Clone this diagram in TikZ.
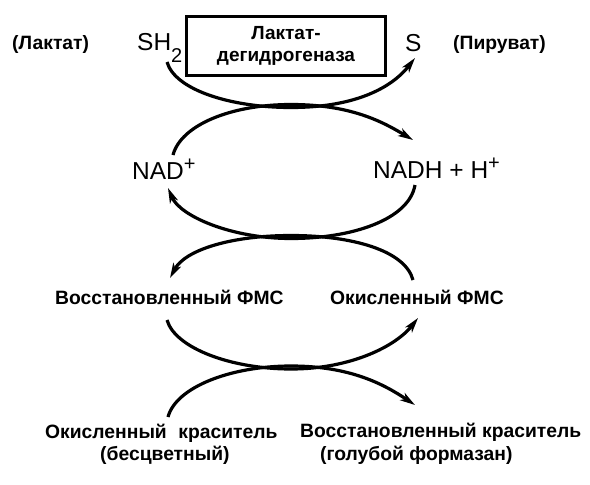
\documentclass[tikz,border=0pt]{standalone}
\usepackage{fontspec}
\setmainfont{Liberation Sans}
\usetikzlibrary{arrows.meta,positioning,calc}

\newcommand{\chsup}[1]{\raisebox{8.5pt}{\fontsize{20}{20}\selectfont #1}}
\newcommand{\chsub}[1]{\raisebox{-12pt}{\fontsize{20}{20}\selectfont #1}}

\begin{document}
\begin{tikzpicture}[
  x=1pt, y=-1pt,
  enzbox/.style={draw, line width=2.8pt, minimum width=199pt, minimum height=59pt, align=center, inner sep=0pt, font=\fontsize{19}{22}\selectfont\bfseries},
  lbl/.style={inner sep=0pt, anchor=base west, font=\fontsize{19.3}{22}\selectfont\bfseries},
  chem/.style={inner sep=0pt, anchor=base west, font=\fontsize{24.5}{28}\selectfont},
  flow/.style={line width=3.2pt, -{Stealth[length=15pt,width=8.5pt,inset=4pt]}}
]
\useasboundingbox (0,0) rectangle (590,485);

% top row: lactate -> pyruvate
\node[lbl] (lac) at (12,49) {(Лактат)};
\node[chem] (sh) at (137,50) {SH\chsub{2}};
\node[enzbox] (enz) at (286,46) {Лактат-\\дегидрогеназа};
\node[chem] (s) at (405,51) {S};
\node[lbl] (pir) at (453,49) {(Пируват)};

% coenzyme
\node[chem] (nad) at (132,179) {NAD\chsup{+}};
\node[chem] (nadh) at (373,178) {NADH + H\chsup{+}};

% PMS
\node[lbl] (fmsr) at (55,304) {Восстановленный ФМС};
\node[lbl] (fmso) at (330,304) {Окисленный ФМС};

% dye
\node[lbl] (dyeo) at (45,438) {Окисленный\hspace{0.6em}краситель};
\node[lbl] (dyeo2) at (100,460) {(бесцветный)};
\node[lbl] (dyer) at (300,437) {Восстановленный краситель};
\node[lbl] (dyer2) at (320,460) {(голубой формазан)};

% where the two arcs of each step run together
\coordinate (x1) at (291,106);
\coordinate (x2) at (291,237);
\coordinate (x3) at (291,367.5);

\draw[flow] ($(sh.base west)+(30,12)$) .. controls +(8,28) and +(-60,0) .. ($(x1)+(0,1.5)$)
  .. controls +(60,0) and +(-25,32) .. ($(s.base west)+(10,7)$);
\draw[flow] ($(nad.base west)+(41,-24)$) .. controls +(8,-30) and +(-60,0) .. ($(x1)+(0,-1.5)$)
  .. controls +(60,0) and +(-30,-18) .. ($(nadh.base west)+(40,-38)$);

\draw[flow] ($(nadh.base west)+(42,7)$) .. controls +(-6,35) and +(60,0) .. ($(x2)+(0,1.5)$)
  .. controls +(-60,0) and +(12,28) .. ($(nad.base west)+(36,9)$);
\draw[flow] ($(fmso.base west)+(83,-24)$) .. controls +(-8,-30) and +(60,0) .. ($(x2)+(0,-1.5)$)
  .. controls +(-60,0) and +(15,-28) .. ($(fmsr.base west)+(115,-26)$);

\draw[flow] ($(fmsr.base west)+(112,16)$) .. controls +(8,28) and +(-60,0) .. ($(x3)+(0,1.5)$)
  .. controls +(60,0) and +(-22,28) .. ($(fmso.base west)+(88,14)$);
\draw[flow] ($(dyeo.base west)+(123,-21)$) .. controls +(8,-30) and +(-60,0) .. ($(x3)+(0,-1.5)$)
  .. controls +(60,0) and +(-30,-20) .. ($(dyer.base west)+(115,-32)$);
\end{tikzpicture}
\end{document}
